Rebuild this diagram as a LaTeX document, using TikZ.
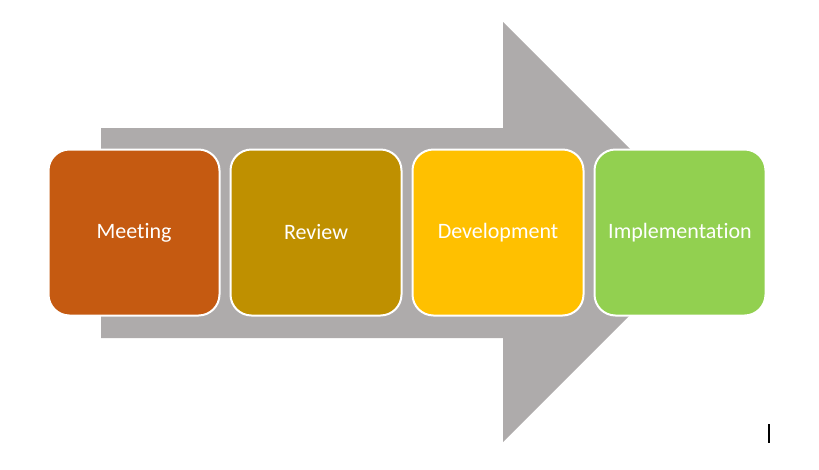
\documentclass[tikz,border=0pt]{standalone}
\usepackage{fontspec}
\setmainfont{Carlito}[RawFeature=-liga]
\usetikzlibrary{positioning}
\definecolor{arrowgray}{HTML}{AEABAB}
\definecolor{meetc}{HTML}{C55A11}
\definecolor{revc}{HTML}{BF9000}
\definecolor{devc}{HTML}{FFC000}
\definecolor{implc}{HTML}{92D050}
\tikzset{
  stagebox/.style={draw=white, line width=2pt, rounded corners=21pt,
    minimum width=171pt, minimum height=166pt, inner sep=0pt,
    text=white, font=\fontsize{22}{24}\selectfont}
}
\begin{document}
\begin{tikzpicture}[x=1pt,y=-1pt]
\useasboundingbox (0,0) rectangle (819,469);
\def\bodyleft{101};\def\bodytop{128};\def\bodybot{338};
\def\headx{503};\def\headtop{22};\def\headbot{442};\def\tipx{713};
\coordinate (arr_1) at (\bodyleft,\bodytop);
\coordinate (arr_2) at (\headx,\bodytop);
\coordinate (arr_3) at (\headx,\headtop);
\coordinate (arr_4) at (\tipx,232);
\coordinate (arr_5) at (\headx,\headbot);
\coordinate (arr_6) at (\headx,\bodybot);
\coordinate (arr_7) at (\bodyleft,\bodybot);

\fill[arrowgray] (arr_1)--(arr_2)--(arr_3)--(arr_4)--(arr_5)--(arr_6)--(arr_7)--cycle;

\node[stagebox, fill=meetc] (meeting) at (134,232.5) {Meeting};
\node[stagebox, fill=revc, right=9pt of meeting] (review) {Review};
\node[stagebox, fill=devc, right=9pt of review] (development) {Development};
\node[stagebox, fill=implc, right=9pt of development] (implementation) {Implementation};

%cursor
\draw[line width=1.2pt] (769,424)--(769,443);
\end{tikzpicture}
\end{document}
